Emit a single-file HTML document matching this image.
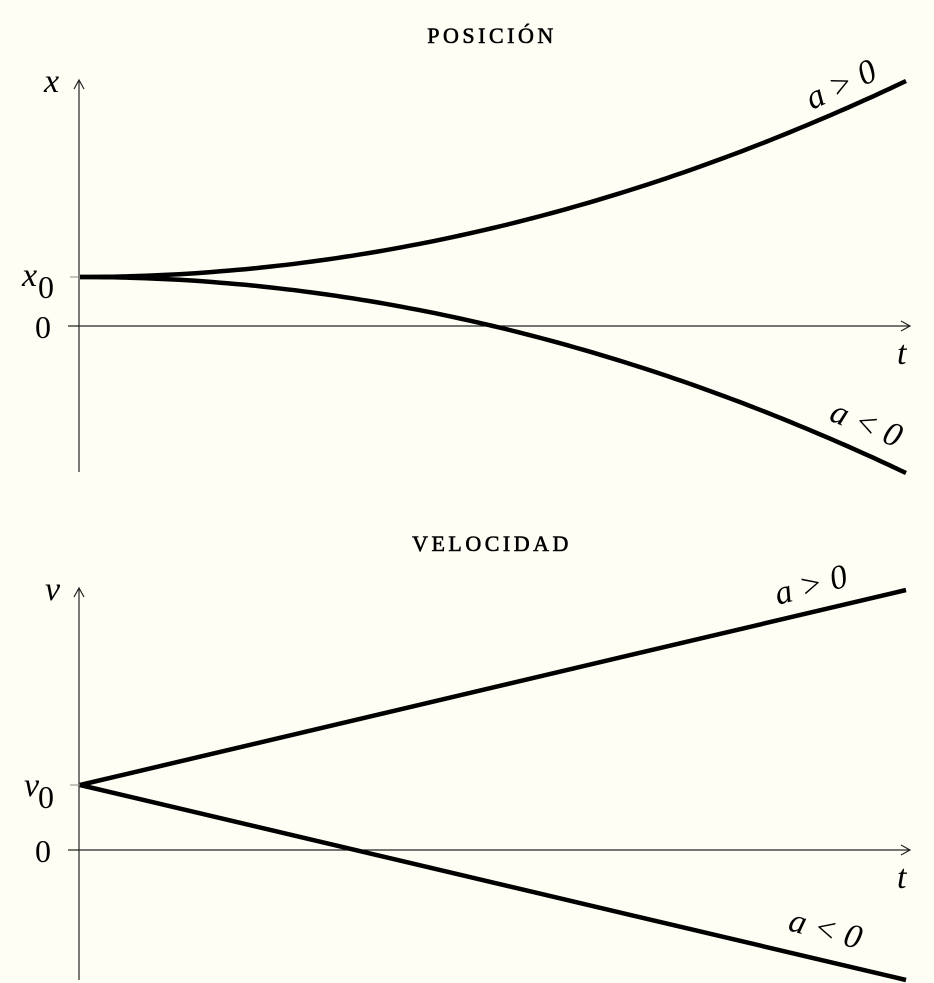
<!DOCTYPE html>
<html><head><meta charset="utf-8"><style>
html,body{margin:0;padding:0;background:#fffef5;}
svg{display:block;font-family:"Liberation Serif",serif;}
.title{font-size:22px;letter-spacing:3.5px;stroke:#000;stroke-width:0.6px;}
.lab{font-style:italic;font-size:34px;}
.num{font-size:32px;}
</style></head><body>
<svg id="c" width="934" height="983" viewBox="0 0 934 983">
<defs><marker id="arr" markerWidth="12" markerHeight="12" refX="10" refY="6" orient="auto" markerUnits="userSpaceOnUse"><path d="M1,1 L10,6 L1,11" fill="none" stroke="#222" stroke-width="1.2"/></marker></defs>
<text class="title" x="492" y="43" text-anchor="middle">POSICIÓN</text>
<text class="title" x="492" y="551" text-anchor="middle">VELOCIDAD</text>
<g id="g"></g>
</svg>
<script>
const tMax = 10;
const posX0 = [1];
const posAccel = [0.08, -0.08];
const posLabels = ["a > 0", "a < 0"];
const velV0 = [1];
const velAccel = [0.3, -0.3];
const velLabels = ["a > 0", "a < 0"];

const NS="http://www.w3.org/2000/svg";
const g=document.getElementById('g');
function mk(tag,at){const e=document.createElementNS(NS,tag);for(const k in at)e.setAttribute(k,at[k]);g.appendChild(e);return e;}
const X0=80,X1=906;
const sx=t=>X0+(t/tMax)*(X1-X0);

// Position panel
const pZero=326,pUnit=49;
const py=v=>pZero-v*pUnit;
let e=mk('line',{x1:79,y1:472,x2:79,y2:80,stroke:'#222','stroke-width':1.2,'marker-end':'url(#arr)'});

e=mk('line',{x1:68,y1:pZero,x2:910,y2:pZero,stroke:'#222','stroke-width':1.2,'marker-end':'url(#arr)'});

e=mk('line',{x1:70,y1:py(posX0[0]),x2:79,y2:py(posX0[0]),stroke:'#888','stroke-width':1});

posAccel.forEach((a,i)=>{let d='';for(let k=0;k<=100;k++){const t=tMax*k/100;const v=posX0[0]+0.5*a*t*t;d+=(k?'L':'M')+sx(t).toFixed(1)+','+py(v).toFixed(1);}
 const p=mk('path',{d:d,fill:'none',stroke:'#000','stroke-width':4.5});
 
 });
function txt(s,x,y,cls,name,rot){const t=mk('text',{x:x,y:y,class:cls});t.textContent=s;if(rot)t.setAttribute('transform',`rotate(${rot} ${x} ${y})`);return t;}
txt('x',44,92,'lab','position-axis-label');
txt('x',22,286,'lab','x0-label');txt('0',38,298,'num','x0-subscript').setAttribute('font-size','24');
txt('0',35,338,'num','position-zero-label');
txt('t',897,364,'lab','position-t-label');
txt(posLabels[0],812,110,'lab','label-a-positive-position',-25);
txt(posLabels[1],828,420,'lab','label-a-negative-position',22);

// Velocity panel
const vZero=850,vUnit=65;
const vy=v=>vZero-v*vUnit;
e=mk('line',{x1:79,y1:980,x2:79,y2:588,stroke:'#222','stroke-width':1.2,'marker-end':'url(#arr)'});

e=mk('line',{x1:68,y1:vZero,x2:910,y2:vZero,stroke:'#222','stroke-width':1.2,'marker-end':'url(#arr)'});

e=mk('line',{x1:70,y1:vy(velV0[0]),x2:79,y2:vy(velV0[0]),stroke:'#888','stroke-width':1});

velAccel.forEach(a=>{const l=mk('line',{x1:sx(0),y1:vy(velV0[0]),x2:sx(tMax),y2:vy(velV0[0]+a*tMax),stroke:'#000','stroke-width':4.5});
 
 });
txt('v',45,600,'lab','velocity-axis-label');
txt('v',24,796,'lab','v0-label');txt('0',38,808,'num','v0-subscript').setAttribute('font-size','24');
txt('0',35,862,'num','velocity-zero-label');
txt('t',897,888,'lab','velocity-t-label');
txt(velLabels[0],778,605,'lab','label-a-positive-velocity',-15);
txt(velLabels[1],787,930,'lab','label-a-negative-velocity',15);
</script>
</body></html>
